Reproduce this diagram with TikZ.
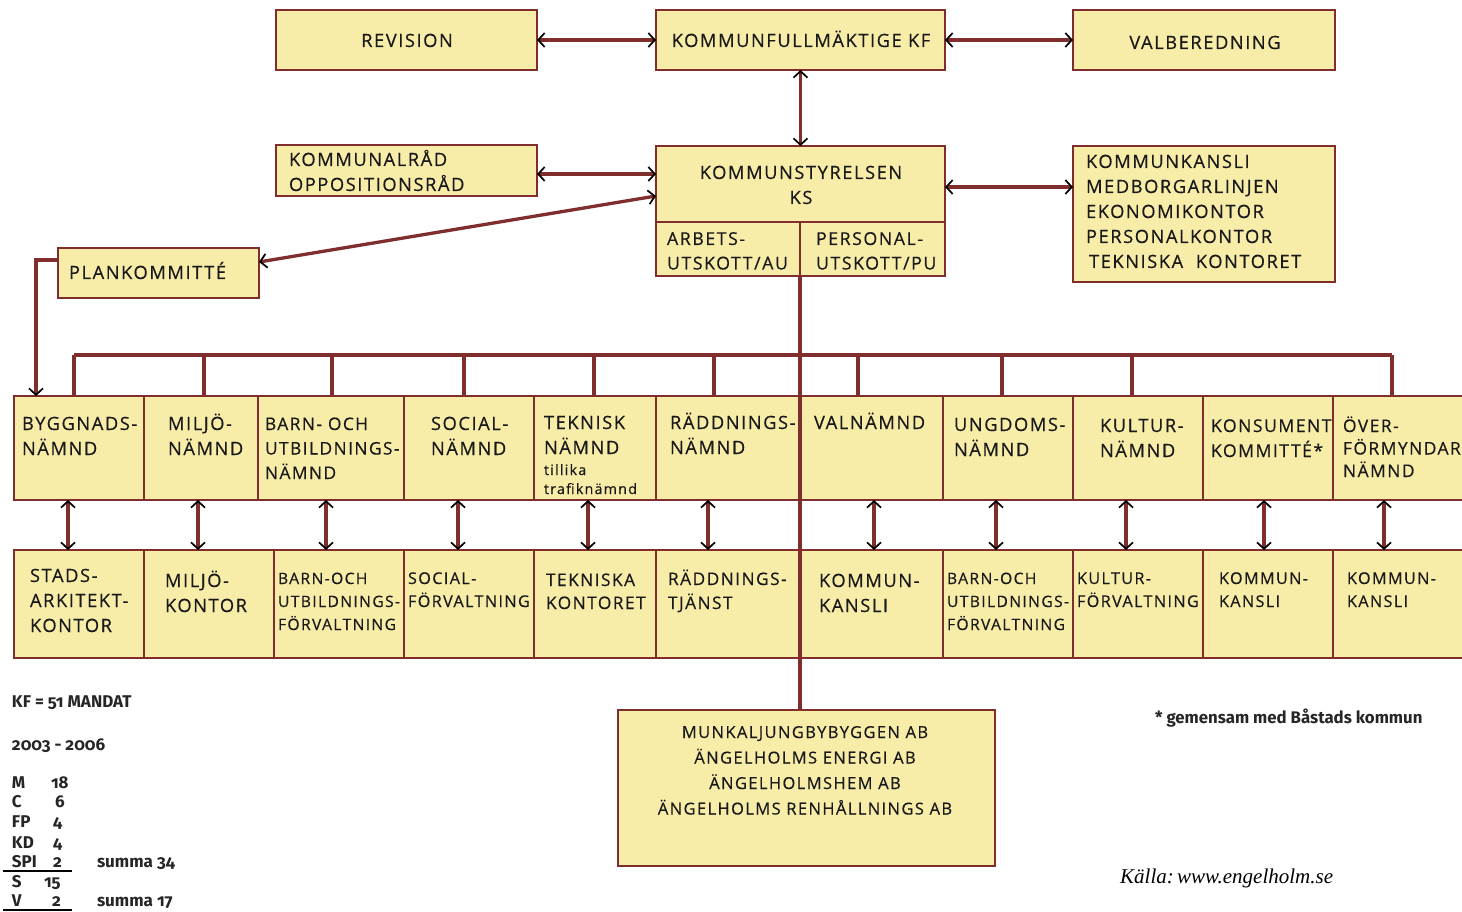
\documentclass[tikz,border=0pt]{standalone}
\usepackage{fontspec}
\usetikzlibrary{arrows.meta}
\newfontfamily\boxfont{Open Sans}[LetterSpace=8.5, FakeBold=0.4]
\newfontfamily\legfont{Fira Sans}[Numbers=OldStyle]
\newfontfamily\srcfont{Liberation Serif}
\definecolor{boxfill}{RGB}{247,237,168}
\definecolor{boxline}{RGB}{127,45,45}
% type sizes: size / line distance
\newcommand\fsA{\fontsize{18.3}{25}\selectfont}
\newcommand\fsB{\fontsize{16.2}{23}\selectfont}
\newcommand\fsC{\fontsize{14.3}{19}\selectfont}
\newcommand\fsAB{\fontsize{16.5}{25.5}\selectfont}
% stacked lines, left or centred
\newcommand\tl[1]{\begin{tabular}[t]{@{}l@{}}#1\end{tabular}}
\newcommand\tc[1]{\begin{tabular}[t]{@{}c@{}}#1\end{tabular}}
% box from its top left and bottom right corners
\newcommand\bx[5]{\node[box, minimum width={(#4-#2)*1pt}, minimum height={(#5-#3)*1pt}] (#1) at (#2,#3) {};}
\tikzset{
  box/.style={draw=boxline, fill=boxfill, line width=2.9pt, inner sep=0pt, outer sep=0pt, anchor=north west},
  conn/.style={draw=boxline, line width=3.3pt},
  tipb/.tip={Straight Barb[color=black, length=6.5pt, width=14pt, line width=1.7pt]},
  both/.style={conn, tipb-tipb},
  one/.style={conn, -tipb},
  txt/.style={inner sep=0pt, outer sep=0pt, anchor=base west, font=\boxfont\fsA, text=black!90},
  ctxt/.style={txt, anchor=base},
  leg/.style={inner sep=0pt, outer sep=0pt, anchor=base west, font=\legfont\bfseries\fontsize{17}{20}\selectfont, text=black!85}
}
\begin{document}
\begin{tikzpicture}[x=1pt, y=-1pt]
\useasboundingbox (0,0) rectangle (1462,912);
\clip (0,0) rectangle (1462,912);
\fill[white] (0,0) rectangle (1462,912);

% --- upper level
\bx{rev}{276}{10}{537}{70}
\bx{kf}{656}{10}{945}{70}
\bx{valb}{1073}{10}{1335}{70}
\bx{kr}{276}{145}{537}{196}
\bx{ks}{656}{146}{945}{222}
\bx{au}{656}{222}{800}{276}
\bx{pu}{800}{222}{945}{276}
\bx{kk}{1073}{146}{1335}{282}
\bx{pk}{58}{248}{259}{298}

% --- committees
\bx{bygg}{14}{396}{144}{500}
\bx{miljo}{144}{396}{258}{500}
\bx{barn}{258}{396}{404}{500}
\bx{soc}{404}{396}{534}{500}
\bx{tekn}{534}{396}{656}{500}
\bx{radd}{656}{396}{801}{500}
\bx{val}{801}{396}{943}{500}
\bx{ungd}{943}{396}{1073}{500}
\bx{kult}{1073}{396}{1203}{500}
\bx{kons}{1203}{396}{1333}{500}
\bx{over}{1333}{396}{1500}{500}

% --- administrations
\bx{stads}{14}{550}{144}{658}
\bx{mk}{144}{550}{274}{658}
\bx{bof}{274}{550}{404}{658}
\bx{sf}{404}{550}{534}{658}
\bx{tk}{534}{550}{656}{658}
\bx{rt}{656}{550}{801}{658}
\bx{kan1}{801}{550}{943}{658}
\bx{bof2}{943}{550}{1073}{658}
\bx{kuf}{1073}{550}{1203}{658}
\bx{kan2}{1203}{550}{1333}{658}
\bx{kan3}{1333}{550}{1500}{658}

% --- companies
\bx{ab}{618}{710}{995}{866}

% --- connectors
\draw[both] (rev.east) -- (kf.west);
\draw[both] (kf.east) -- (valb.west);
\draw[both] (kf.south) -- (ks.north);
\path ([yshift=-3.5pt]kr.east) coordinate (krA);
\draw[both] (krA) -- (krA -| ks.west);
\path ([yshift=-3pt]ks.east) coordinate (ksE);
\draw[both] (ksE) -- (ksE -| kk.west);
\draw[both] ([yshift=-12pt]ks.west) -- ([yshift=11pt]pk.east);
\draw[one] ([yshift=13pt]pk.west) -| ([xshift=22pt]bygg.north west);
\draw[conn] (au.south east) -- (au.south east |- ab.north);

\path (74,355) coordinate (busL) (1392,355) coordinate (busR);
\draw[conn] (busL) -- (busR);
\foreach \n/\x in {bygg/74, miljo/204, barn/332, soc/464, tekn/594, radd/714, val/858, ungd/1002, kult/1132, over/1392}{
  \path (\x,355) coordinate (d);
  \draw[conn] (d) -- (d |- \n.north);
}
\foreach \a/\b/\x in {bygg/stads/68, miljo/mk/198, barn/bof/326, soc/sf/458, tekn/tk/588, radd/rt/708, val/kan1/874, ungd/bof2/996, kult/kuf/1126, kons/kan2/1264, over/kan3/1384}{
  \path (\x,500) coordinate (p);
  \draw[both] (p |- \a.south) -- (p |- \b.north);
}

% --- texts, upper level
\node[ctxt] (trev) at (407,47) {REVISION};
\node[ctxt] (tkf) at (801,47) {KOMMUNFULLMÄKTIGE KF};
\node[ctxt] (tvalb) at (1205,49) {VALBEREDNING};
\node[txt] (tkr) at (289,166) {\tl{KOMMUNALRÅD\\OPPOSITIONSRÅD}};
\node[ctxt] (tks) at (801,179) {\tc{KOMMUNSTYRELSEN\\KS}};
\node[txt, font=\boxfont\fontsize{17.8}{24.5}\selectfont] (tau) at (667,245) {\tl{ARBETS-\\UTSKOTT/AU}};
\node[txt, font=\boxfont\fontsize{17.8}{24.5}\selectfont] (tpu) at (816,245) {\tl{PERSONAL-\\UTSKOTT/PU}};
\node[txt] (tkk) at (1086,168) {\tl{KOMMUNKANSLI\\MEDBORGARLINJEN\\EKONOMIKONTOR\\PERSONALKONTOR\\\,TEKNISKA\ \ KONTORET}};
\node[txt] (tpk) at (69,279) {PLANKOMMITTÉ};

% --- texts, committees
\node[txt] (tbygg) at (22,430) {\tl{BYGGNADS-\\NÄMND}};
\node[txt] (tmiljo) at (168,430) {\tl{MILJÖ-\\NÄMND}};
\node[txt, font=\boxfont\fontsize{17.3}{24.5}\selectfont] (tbarn) at (265,430) {\tl{BARN- OCH\\UTBILDNINGS-\\NÄMND}};
\node[txt] (tsoc) at (431,430) {\tl{SOCIAL-\\NÄMND}};
\node[txt] (ttekn) at (544,429) {\tl{TEKNISK\\NÄMND}};
\node[txt, font=\boxfont\fsC] (ttill) at (544,475) {\tl{tillika\\trafiknämnd}};
\node[txt] (tradd) at (670,429) {\tl{RÄDDNINGS-\\NÄMND}};
\node[txt] (tval) at (814,429) {VALNÄMND};
\node[txt] (tungd) at (954,431) {\tl{UNGDOMS-\\NÄMND}};
\node[txt] (tkult) at (1100,432) {\tl{KULTUR-\\NÄMND}};
\node[txt, font=\boxfont\fontsize{17.6}{25}\selectfont] (tkons) at (1211,432) {\tl{KONSUMENT\\KOMMITTÉ*}};
\node[txt, font=\boxfont\fontsize{17.4}{22.5}\selectfont] (tover) at (1343,432) {\tl{ÖVER-\\FÖRMYNDAR-\\NÄMND}};

% --- texts, administrations
\node[txt] (tstads) at (30,582) {\tl{STADS-\\ARKITEKT-\\KONTOR}};
\node[txt] (tmk) at (165,587) {\tl{MILJÖ-\\KONTOR}};
\node[txt, font=\boxfont\fontsize{15.7}{23}\selectfont] (tbof) at (278,584) {\tl{BARN-OCH\\UTBILDNINGS-\\FÖRVALTNING}};
\node[txt, font=\boxfont\fsB] (tsf) at (408,584) {\tl{SOCIAL-\\FÖRVALTNING}};
\node[txt, font=\boxfont\fontsize{17.3}{23}\selectfont] (ttk) at (546,586) {\tl{TEKNISKA\\KONTORET}};
\node[txt, font=\boxfont\fontsize{17.3}{24}\selectfont] (trt) at (668,585) {\tl{RÄDDNINGS-\\TJÄNST}};
\node[txt] (tkan1) at (819,587) {\tl{KOMMUN-\\KANSLI}};
\node[txt, font=\boxfont\fontsize{15.7}{23}\selectfont] (tbof2) at (947,584) {\tl{BARN-OCH\\UTBILDNINGS-\\FÖRVALTNING}};
\node[txt, font=\boxfont\fsB] (tkuf) at (1077,584) {\tl{KULTUR-\\FÖRVALTNING}};
\node[txt, font=\boxfont\fsB] (tkan2) at (1219,584) {\tl{KOMMUN-\\KANSLI}};
\node[txt, font=\boxfont\fsB] (tkan3) at (1347,584) {\tl{KOMMUN-\\KANSLI}};

% --- texts, companies
\node[ctxt, font=\boxfont\fsAB] (tab) at (805,738) {\tc{MUNKALJUNGBYBYGGEN AB\\ÄNGELHOLMS ENERGI AB\\ÄNGELHOLMSHEM AB\\ÄNGELHOLMS RENHÅLLNINGS AB}};

% --- seats in the council
\node[leg] (lkf) at (12,707) {KF = 51 MANDAT};
\node[leg] (lper) at (12,750) {2003 - 2006};
\node[leg] (lm) at (12,788) {M};   \node[leg] (nm) at (51,788) {18};
\node[leg] (lc) at (12,807) {C};   \node[leg] (nc) at (55,807) {6};
\node[leg] (lfp) at (12,827) {FP}; \node[leg] (nfp) at (53,827) {4};
\node[leg] (lkd) at (12,848) {KD}; \node[leg] (nkd) at (53,848) {4};
\node[leg] (lspi) at (12,867) {SPI}; \node[leg] (nspi) at (53,867) {2};
\node[leg] (ls) at (12,887) {S};   \node[leg] (ns) at (44,887) {15};
\node[leg] (lv) at (12,906) {V};   \node[leg] (nv) at (52,906) {2};
\node[leg] (sum1) at (97,867) {summa 34};
\node[leg] (sum2) at (97,906) {summa 17};
\draw[line width=2pt, black] (3,870.5) -- (72,870.5);
\draw[line width=2pt, black] (3,909.5) -- (72,909.5);

% --- notes
\node[leg, font=\legfont\bfseries\fontsize{16.8}{20}\selectfont] (note) at (1155,723) {* gemensam med Båstads kommun};
\node[inner sep=0pt, anchor=base west, font=\srcfont\itshape\fontsize{21}{25}\selectfont] (src) at (1120,883) {Källa:\kern-2pt\ www.engelholm.se};
\end{tikzpicture}
\end{document}
